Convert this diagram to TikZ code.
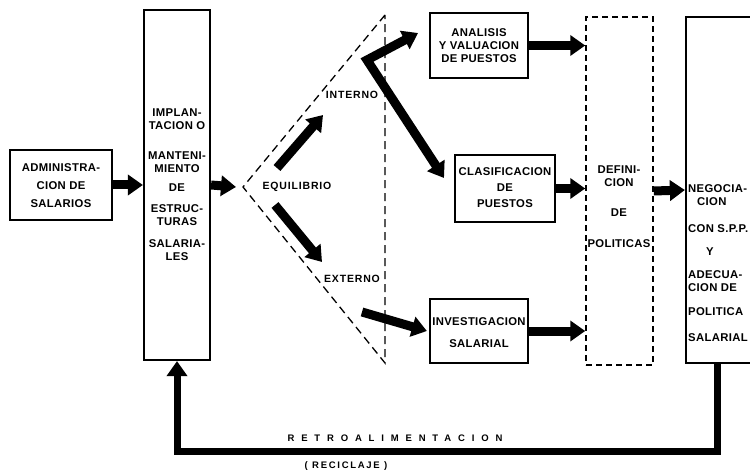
\documentclass[tikz,border=0pt]{standalone}
\usepackage{fontspec}
\setmainfont{Liberation Sans}
\usetikzlibrary{arrows.meta}
\begin{document}
\begin{tikzpicture}[x=1pt,y=-1pt,
  box/.style={draw, line width=2.2pt, inner sep=0pt},
  dbox/.style={draw, line width=1.5pt, dash pattern=on 6pt off 4pt, inner sep=0pt},
  txt/.style={font=\fontsize{11.3}{13}\selectfont\bfseries\addfontfeatures{LetterSpace=3}, align=center, inner sep=0pt},
  ltxt/.style={font=\fontsize{10.5}{12.5}\selectfont\bfseries\addfontfeatures{LetterSpace=8}, inner sep=0pt},
  blk/.style={line width=9pt, -{Triangle[length=15pt,width=20pt]}},
  dline/.style={line width=1.3pt, dash pattern=on 8pt off 5pt},
  fb/.style={line width=7pt, -{Triangle[length=15pt,width=20pt]}}
]
\useasboundingbox (0,0) rectangle (750,473);

% boxes
\node[box, line width=2.6pt, minimum width=102pt, minimum height=70pt] (admin) at (61,185) {};
\node[box, minimum width=66pt, minimum height=350pt] (big) at (177,185) {};
\node[box, minimum width=98pt, minimum height=65pt] (ana) at (479,45.5) {};
\node[box, minimum width=100pt, minimum height=67pt] (clas) at (505,188.5) {};
\node[box, minimum width=98pt, minimum height=64pt] (inv) at (479,331) {};
\node[dbox, minimum width=67pt, minimum height=348pt] (def) at (619.5,191) {};
\node[box, minimum width=70pt, minimum height=346pt] (neg) at (721,190) {};

% texts in boxes
\node[txt] (tadmin) at (61,186) {ADMINISTRA-\\[5pt]CION DE\\[5pt]SALARIOS};
\node[txt] (tbig) at (177,185) {IMPLAN-\\TACION O\\[17pt]MANTENI-\\MIENTO\\[6pt]DE\\[8pt]ESTRUC-\\TURAS\\[9pt]SALARIA-\\LES};
\node[txt] (tana) at (479,46) {ANALISIS\\Y VALUACION\\DE PUESTOS};
\node[txt] (tclas) at (505,188) {CLASIFICACION\\[3pt]DE\\[3pt]PUESTOS};
\node[txt] (tinv) at (479,333) {INVESTIGACION\\[9pt]SALARIAL};
\node[txt] (tdef) at (619,207) {DEFINI-\\CION\\[17pt]DE\\[18pt]POLITICAS};
\node[txt, align=left, anchor=west] (tneg) at (688,263) {NEGOCIA-\\\hspace*{9pt}CION\\[14pt]CON S.P.P.\\[10pt]\hspace*{18pt}Y\\[10pt]ADECUA-\\CION DE\\[11pt]POLITICA\\[13pt]SALARIAL};

% triangle
\coordinate (apex) at (243,187);
\coordinate (ttop) at (385,15);
\coordinate (tbot) at (385,363);
\draw[dline] (ttop) -- (apex) -- (tbot) -- cycle;

\node[ltxt] (equi) at (297,187) {EQUILIBRIO};
\node[ltxt] (interno) at (352,95) {INTERNO};
\node[ltxt] (externo) at (352,279) {EXTERNO};

% arrows
\draw[blk] (admin.east) -- (big.west);
\draw[blk] (big.east) -- ([xshift=-7pt]apex);
\coordinate (e1s) at (277,168);
\coordinate (e1e) at (323,115);
\coordinate (e2s) at (275,205);
\coordinate (e2e) at (322,262);
\draw[blk] (e1s) -- (e1e);
\draw[blk] (e2s) -- (e2e);
\coordinate (bend) at (367,60);
\coordinate (ta) at (418,33);
\coordinate (tc) at (444,178);
\draw[line width=9pt, {Triangle[length=15pt,width=20pt]}-{Triangle[length=15pt,width=20pt]}] (ta) -- (bend) -- (tc);
\coordinate (is) at (362,312);
\draw[blk] (is) -- ([xshift=-2pt]inv.west);
\draw[blk] (ana.east) -- (ana.east -| def.west);
\draw[blk] (clas.east) -- (clas.east -| def.west);
\draw[blk] (inv.east) -- (inv.east -| def.west);
\draw[blk] (def.east) -- (neg.west);

% feedback
\draw[fb] ([xshift=-4pt]neg.south) -- ++(0,87) -| (big.south);
\node[font=\fontsize{9.5}{10}\selectfont\bfseries\addfontfeatures{LetterSpace=72}, inner sep=0pt] (retro) at (395,438) {RETROALIMENTACION};
\node[font=\fontsize{9.5}{10}\selectfont\bfseries\addfontfeatures{LetterSpace=18}, inner sep=0pt] (recic) at (346,466) {( RECICLAJE )};
\end{tikzpicture}
\end{document}
